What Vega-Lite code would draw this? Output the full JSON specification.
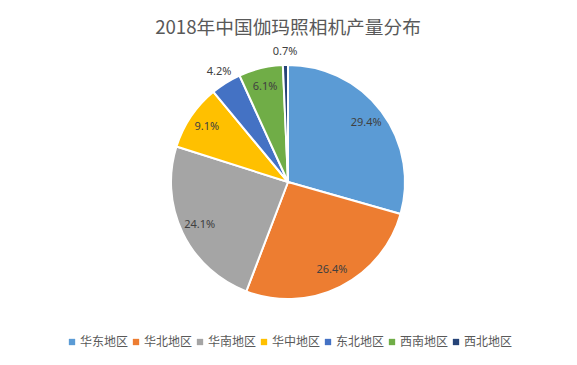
{
  "$schema": "https://vega.github.io/schema/vega-lite/v6.json",
  "width": 576,
  "height": 364,
  "padding": 0,
  "autosize": {"type": "none"},
  "background": "white",
  "config": {"view": {"stroke": "#d9d9d9", "strokeWidth": 1}, "font": "Noto Sans CJK SC"},
  "title": {"text": "2018年中国伽玛照相机产量分布", "fontSize": 18.7, "fontWeight": "normal", "color": "#595959", "font": "Noto Sans CJK SC", "anchor": "middle", "frame": "group", "offset": -38},
  "data": {"values": [
    {"地区": "华东地区", "占比": 29.4, "序号": 1, "标签": "29.4%"},
    {"地区": "华北地区", "占比": 26.4, "序号": 2, "标签": "26.4%"},
    {"地区": "华南地区", "占比": 24.1, "序号": 3, "标签": "24.1%"},
    {"地区": "华中地区", "占比": 9.1, "序号": 4, "标签": "9.1%"},
    {"地区": "东北地区", "占比": 4.2, "序号": 5, "标签": "4.2%"},
    {"地区": "西南地区", "占比": 6.1, "序号": 6, "标签": "6.1%"},
    {"地区": "西北地区", "占比": 0.7, "序号": 7, "标签": "0.7%"}
  ]},
  "encoding": {
    "theta": {"field": "占比", "type": "quantitative", "stack": true},
    "order": {"field": "序号", "type": "quantitative"}
  },
  "layer": [
    {
      "mark": {"type": "arc", "outerRadius": 117, "stroke": "white", "strokeWidth": 2},
      "encoding": {
        "color": {
          "field": "地区", "type": "nominal",
          "scale": {"domain": ["华东地区", "华北地区", "华南地区", "华中地区", "东北地区", "西南地区", "西北地区"],
                    "range": ["#5B9BD5", "#ED7D31", "#A5A5A5", "#FFC000", "#4472C4", "#70AD47", "#264478"]},
          "legend": {
            "title": null, "orient": "none", "legendX": 66, "legendY": 336, "direction": "horizontal", "columns": 7,
            "symbolType": "square", "symbolSize": 40, "symbolStrokeWidth": 0, "labelFontSize": 12, "labelColor": "#595959",
            "labelFont": "Noto Sans CJK SC", "labelOffset": 2, "columnPadding": 1, "padding": 0, "symbolOffset": 0
          }
        }
      }
    },
    {
      "mark": {"type": "text", "radius": 98, "fontSize": 11, "color": "#404040", "font": "Noto Sans"},
      "encoding": {"text": {"condition": {"test": "datum['占比'] < 5", "value": ""}, "field": "标签", "type": "nominal"}}
    },
    {
      "mark": {"type": "text", "radius": 130, "fontSize": 11, "color": "#404040", "font": "Noto Sans"},
      "encoding": {"text": {"condition": {"test": "datum['占比'] >= 5", "value": ""}, "field": "标签", "type": "nominal"}}
    }
  ]
}
